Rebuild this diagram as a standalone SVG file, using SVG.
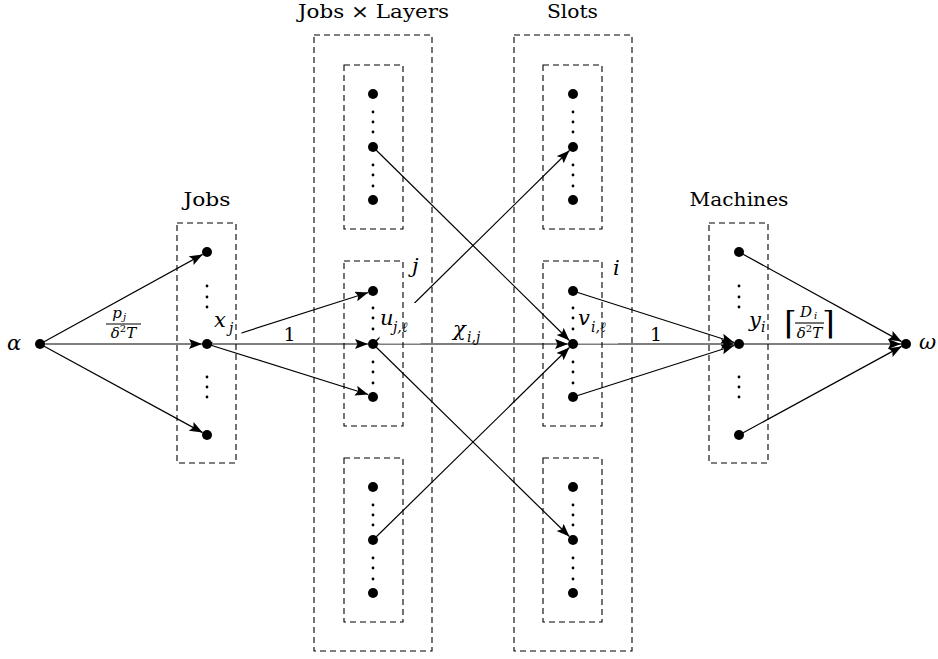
<svg xmlns="http://www.w3.org/2000/svg" width="938" height="659" viewBox="0 0 938 659">
<defs>
<marker id="arr" markerUnits="userSpaceOnUse" markerWidth="15" markerHeight="11" refX="13" refY="5" orient="auto">
<path d="M0,0 L13,5 L0,10 L2.5,5 z" fill="#000"/>
</marker>
<style>
.e{stroke:#000;stroke-width:1.2;fill:none;marker-end:url(#arr)}
.box{fill:none;stroke:#000;stroke-width:1.1;stroke-dasharray:6 4}
.n{fill:#000}
.d{fill:#000}
.bg{fill:#fff}
</style>
</defs>
<rect width="938" height="659" fill="#fff"/>

<g id="connectors">
<line class="e" x1="40" y1="344" x2="202.6" y2="254.4"/>
<line class="e" x1="40" y1="344" x2="202" y2="344"/>
<line class="e" x1="40" y1="344" x2="202.6" y2="432.6"/>
<line class="e" x1="207" y1="344" x2="368.2" y2="292.5"/>
<line class="e" x1="207" y1="344" x2="368" y2="344"/>
<line class="e" x1="207" y1="344" x2="368.2" y2="394.5"/>
<line class="e" x1="373" y1="344" x2="569.4" y2="150.5"/>
<line class="e" x1="373" y1="344" x2="568" y2="344"/>
<line class="e" x1="373" y1="344" x2="569.4" y2="536.5"/>
<line class="e" x1="373" y1="147" x2="569.4" y2="340.5"/>
<line class="e" x1="373" y1="540" x2="569.4" y2="347.5"/>
<line class="e" x1="573" y1="291" x2="734.2" y2="342.5"/>
<line class="e" x1="573" y1="344" x2="734" y2="344"/>
<line class="e" x1="573" y1="397" x2="734.2" y2="345.5"/>
<line class="e" x1="739" y1="252" x2="901.6" y2="341.6"/>
<line class="e" x1="739" y1="344" x2="901" y2="344"/>
<line class="e" x1="739" y1="435" x2="901.6" y2="346.4"/>
</g>

<g id="label-backgrounds">
<rect class="bg" x="212.5" y="311" width="29" height="32"/>
<rect class="bg" x="379.5" y="303" width="41" height="40.5"/>
<rect class="bg" x="578" y="306" width="40" height="37.5"/>
<rect class="bg" x="746" y="310" width="25" height="33"/>
<rect class="bg" x="451" y="320" width="42" height="23"/>
</g>

<g id="boxes" font-family="DejaVu Serif" fill="#000">
<g id="jobs-box">
<rect class="box" x="177" y="223" width="59" height="240"/>
<text x="207" y="206" font-size="19" text-anchor="middle" textLength="47" lengthAdjust="spacingAndGlyphs">Jobs</text>
</g>
<g id="jobs-layers-box">
<rect class="box" x="314" y="35" width="118" height="616"/>
<text x="373.5" y="18" font-size="19" text-anchor="middle" textLength="151" lengthAdjust="spacingAndGlyphs">Jobs × Layers</text>
<rect class="box" x="344" y="65" width="59" height="164"/>
<rect class="box" x="344" y="261" width="59" height="165"/>
<rect class="box" x="344" y="458" width="59" height="164"/>
<text x="412" y="273" font-size="21" font-style="italic">j</text>
</g>
<g id="slots-box">
<rect class="box" x="514" y="35" width="118" height="616"/>
<text x="572.5" y="18" font-size="19" text-anchor="middle" textLength="51" lengthAdjust="spacingAndGlyphs">Slots</text>
<rect class="box" x="543" y="65" width="59" height="164"/>
<rect class="box" x="543" y="261" width="59" height="165"/>
<rect class="box" x="543" y="458" width="59" height="164"/>
<text x="613" y="275" font-size="21" font-style="italic">i</text>
</g>
<g id="machines-box">
<rect class="box" x="709" y="223" width="59" height="240"/>
<text x="739" y="206" font-size="19" text-anchor="middle" textLength="99" lengthAdjust="spacingAndGlyphs">Machines</text>
</g>
</g>

<g id="ellipses">
<circle class="d" cx="207" cy="286" r="1.4"/><circle class="d" cx="207" cy="297" r="1.4"/><circle class="d" cx="207" cy="307" r="1.4"/>
<circle class="d" cx="207" cy="377" r="1.4"/><circle class="d" cx="207" cy="387" r="1.4"/><circle class="d" cx="207" cy="397" r="1.4"/>
<circle class="d" cx="739" cy="286" r="1.4"/><circle class="d" cx="739" cy="297" r="1.4"/><circle class="d" cx="739" cy="307" r="1.4"/>
<circle class="d" cx="739" cy="377" r="1.4"/><circle class="d" cx="739" cy="387" r="1.4"/><circle class="d" cx="739" cy="397" r="1.4"/>
<circle class="d" cx="373" cy="112" r="1.4"/><circle class="d" cx="373" cy="122" r="1.4"/><circle class="d" cx="373" cy="132" r="1.4"/>
<circle class="d" cx="373" cy="165" r="1.4"/><circle class="d" cx="373" cy="175" r="1.4"/><circle class="d" cx="373" cy="186" r="1.4"/>
<circle class="d" cx="373" cy="308" r="1.4"/><circle class="d" cx="373" cy="318" r="1.4"/><circle class="d" cx="373" cy="329" r="1.4"/>
<circle class="d" cx="373" cy="362" r="1.4"/><circle class="d" cx="373" cy="372" r="1.4"/><circle class="d" cx="373" cy="383" r="1.4"/>
<circle class="d" cx="373" cy="505" r="1.4"/><circle class="d" cx="373" cy="515" r="1.4"/><circle class="d" cx="373" cy="525" r="1.4"/>
<circle class="d" cx="373" cy="558" r="1.4"/><circle class="d" cx="373" cy="568" r="1.4"/><circle class="d" cx="373" cy="579" r="1.4"/>
<circle class="d" cx="573" cy="112" r="1.4"/><circle class="d" cx="573" cy="122" r="1.4"/><circle class="d" cx="573" cy="132" r="1.4"/>
<circle class="d" cx="573" cy="165" r="1.4"/><circle class="d" cx="573" cy="175" r="1.4"/><circle class="d" cx="573" cy="186" r="1.4"/>
<circle class="d" cx="573" cy="308" r="1.4"/><circle class="d" cx="573" cy="318" r="1.4"/><circle class="d" cx="573" cy="329" r="1.4"/>
<circle class="d" cx="573" cy="362" r="1.4"/><circle class="d" cx="573" cy="372" r="1.4"/><circle class="d" cx="573" cy="383" r="1.4"/>
<circle class="d" cx="573" cy="505" r="1.4"/><circle class="d" cx="573" cy="515" r="1.4"/><circle class="d" cx="573" cy="525" r="1.4"/>
<circle class="d" cx="573" cy="558" r="1.4"/><circle class="d" cx="573" cy="568" r="1.4"/><circle class="d" cx="573" cy="579" r="1.4"/>
</g>

<g id="nodes" font-family="DejaVu Serif" font-style="italic" fill="#000">
<g id="node-alpha"><circle class="n" cx="40" cy="344" r="5"/><text x="7" y="350" font-size="21">α</text></g>
<g id="node-job-top"><circle class="n" cx="207" cy="252" r="5"/></g>
<g id="node-xj"><circle class="n" cx="207" cy="344" r="5"/><text x="214" y="327" font-size="21">x</text><text x="229" y="333" font-size="14">j</text></g>
<g id="node-job-bottom"><circle class="n" cx="207" cy="435" r="5"/></g>

<g id="node-l1a"><circle class="n" cx="373" cy="94" r="5"/></g>
<g id="node-l1b"><circle class="n" cx="373" cy="147" r="5"/></g>
<g id="node-l1c"><circle class="n" cx="373" cy="200" r="5"/></g>
<g id="node-l2a"><circle class="n" cx="373" cy="291" r="5"/></g>
<g id="node-ujl"><circle class="n" cx="373" cy="344" r="5"/><text x="380" y="325" font-size="21">u</text><text x="393" y="332" font-size="14">j,ℓ</text></g>
<g id="node-l2c"><circle class="n" cx="373" cy="397" r="5"/></g>
<g id="node-l3a"><circle class="n" cx="373" cy="487" r="5"/></g>
<g id="node-l3b"><circle class="n" cx="373" cy="540" r="5"/></g>
<g id="node-l3c"><circle class="n" cx="373" cy="593" r="5"/></g>

<g id="node-s1a"><circle class="n" cx="573" cy="94" r="5"/></g>
<g id="node-s1b"><circle class="n" cx="573" cy="147" r="5"/></g>
<g id="node-s1c"><circle class="n" cx="573" cy="200" r="5"/></g>
<g id="node-s2a"><circle class="n" cx="573" cy="291" r="5"/></g>
<g id="node-vil"><circle class="n" cx="573" cy="344" r="5"/><text x="578" y="325" font-size="21">v</text><text x="591" y="332" font-size="14">i,ℓ</text></g>
<g id="node-s2c"><circle class="n" cx="573" cy="397" r="5"/></g>
<g id="node-s3a"><circle class="n" cx="573" cy="487" r="5"/></g>
<g id="node-s3b"><circle class="n" cx="573" cy="540" r="5"/></g>
<g id="node-s3c"><circle class="n" cx="573" cy="593" r="5"/></g>

<g id="node-m-top"><circle class="n" cx="739" cy="252" r="5"/></g>
<g id="node-yi"><circle class="n" cx="739" cy="344" r="5"/><text x="749" y="327" font-size="21">y</text><text x="761" y="332" font-size="14">i</text></g>
<g id="node-m-bottom"><circle class="n" cx="739" cy="435" r="5"/></g>
<g id="node-omega"><circle class="n" cx="906" cy="344" r="5"/><text x="919" y="349" font-size="21">ω</text></g>
</g>

<g id="edge-labels" font-family="DejaVu Serif" font-style="italic" fill="#000">
<text x="117" y="318" font-size="15" text-anchor="middle">p</text><text x="123" y="320" font-size="10">j</text>
<line x1="106" y1="324" x2="141" y2="324" stroke="#000" stroke-width="1.1"/>
<text x="123.5" y="338" font-size="15" text-anchor="middle">δ<tspan font-style="normal" font-size="10" dy="-6">2</tspan><tspan dy="6">T</tspan></text>
<text x="289.5" y="341" font-size="19" font-style="normal" text-anchor="middle">1</text>
<text x="453" y="336" font-size="21">χ</text><text x="467" y="342" font-size="14">i,j</text>
<text x="656" y="341" font-size="19" font-style="normal" text-anchor="middle">1</text>
<text x="784" y="334" font-size="32" font-style="normal">⌈</text>
<text x="822" y="334" font-size="32" font-style="normal">⌉</text>
<text x="806" y="317" font-size="15" text-anchor="middle">D</text><text x="814" y="319" font-size="10">i</text>
<line x1="795" y1="323" x2="824" y2="323" stroke="#000" stroke-width="1.1"/>
<text x="809.5" y="338" font-size="15" text-anchor="middle">δ<tspan font-style="normal" font-size="10" dy="-6">2</tspan><tspan dy="6">T</tspan></text>
</g>
</svg>
